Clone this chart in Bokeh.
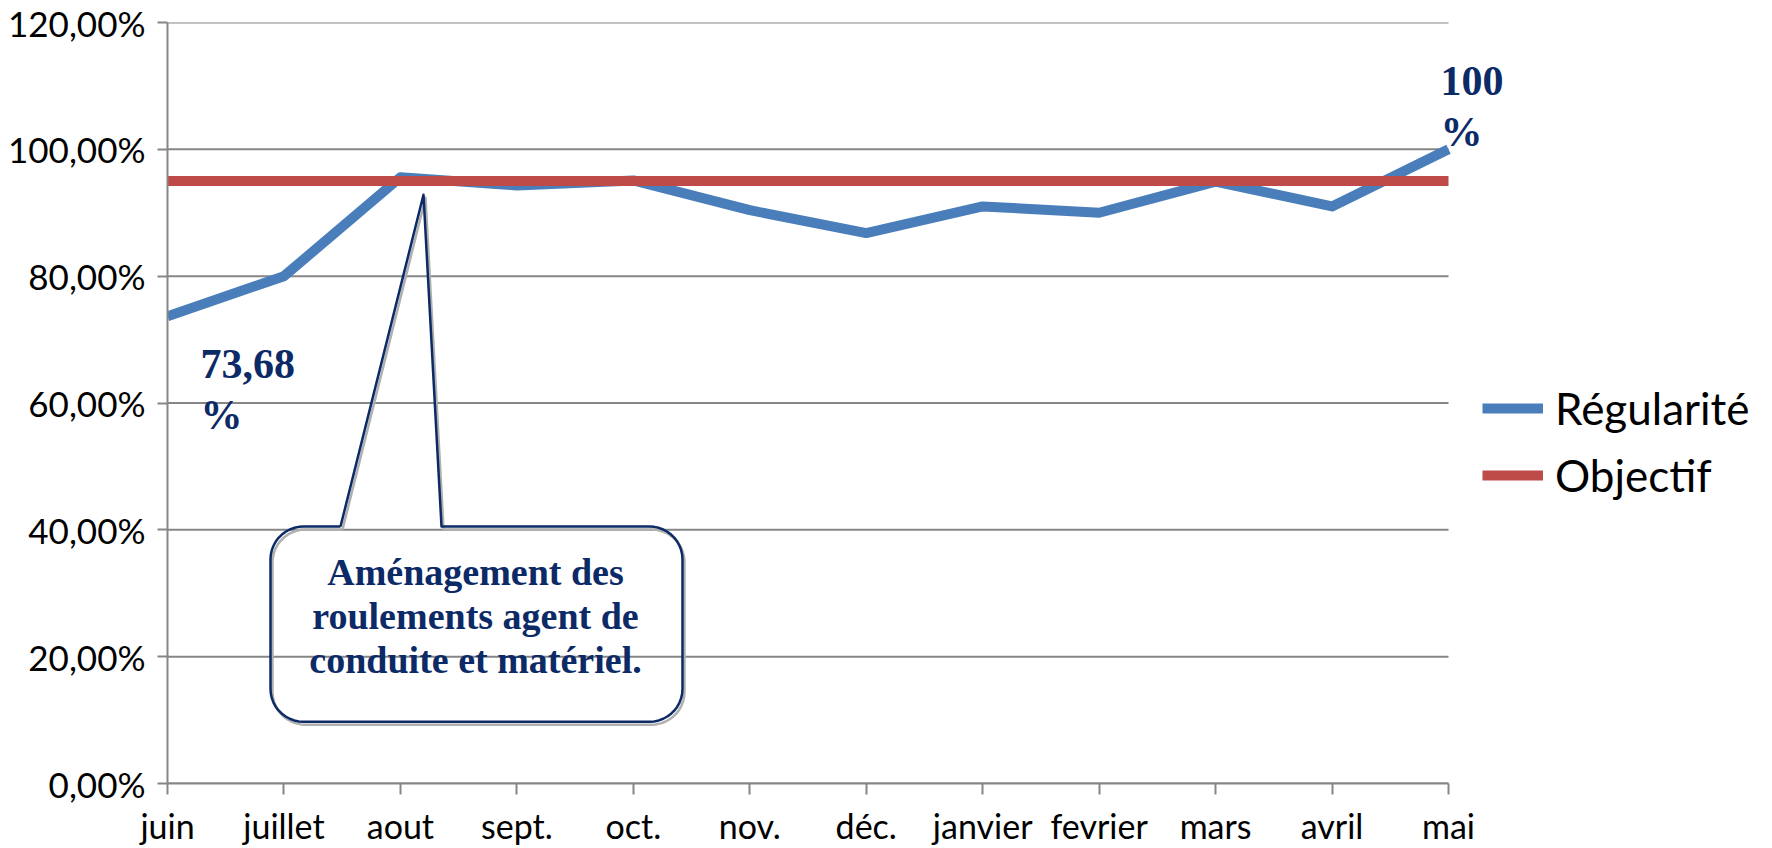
import numpy as np
from bokeh.plotting import figure
from bokeh.models import (Legend, LegendItem, FixedTicker, Range1d, ColumnDataSource,
                          LabelSet, Label)
from bokeh.core.properties import value
from bokeh.embed import file_html
from bokeh.resources import INLINE

# ---------------- data ----------------
months = ["juin", "juillet", "aout", "sept.", "oct.", "nov.", "déc.",
          "janvier", "fevrier", "mars", "avril", "mai"]
regularite = [0.7368, 0.800, 0.956, 0.943, 0.951, 0.904, 0.868,
              0.910, 0.900, 0.949, 0.910, 1.000]
objectif = [0.95, 0.95, 0.95, 0.95, 0.95, 0.95, 0.95,
            0.95, 0.95, 0.95, 0.95, 0.95]
y_ticks = [0.0, 0.2, 0.4, 0.6, 0.8, 1.0, 1.2]
y_tick_labels = ["0,00%", "20,00%", "40,00%", "60,00%", "80,00%", "100,00%", "120,00%"]
labelled_idx = [0, 11]
labelled_text = ["73,68\n%", "100\n%"]
callout_text = "Aménagement des\nroulements agent de\nconduite et matériel."

# ---------------- layout ----------------
W, H = 1772, 848
ML, MT, MB = 167, 22, 62
PLOT_W = 1281                 # width of the category area (juin .. mai)
FH = H - MT - MB
FW = W - ML                   # frame extends to the right edge (legend area)
N = len(months)
X0 = 0
X1 = (N - 1) * FW / PLOT_W
Y0, Y1 = 0.0, 1.2

BLUE = "#4A7EBB"
RED = "#BE4B48"
GRID = "#868686"
NAVY = "#0C2A66"

def px2x(px):
    return X0 + (px - ML) / FW * (X1 - X0)

def py2y(py):
    return Y0 + (MT + FH - py) / FH * (Y1 - Y0)

p = figure(width=W, height=H, x_range=Range1d(X0, X1), y_range=Range1d(Y0, Y1),
           output_backend="svg", toolbar_location=None,
           min_border_left=ML, min_border_right=0, min_border_top=MT,
           min_border_bottom=MB)
p.outline_line_color = None
p.background_fill_color = "white"
p.border_fill_color = "white"

# axes
xs = list(range(N))
p.xaxis.ticker = FixedTicker(ticks=xs)
p.xaxis.major_label_overrides = {i: m for i, m in enumerate(months)}
p.xaxis.bounds = (xs[0], xs[-1])
p.yaxis.ticker = FixedTicker(ticks=y_ticks)
p.yaxis.major_label_overrides = {t: l for t, l in zip(y_ticks, y_tick_labels)}
for ax in (p.xaxis, p.yaxis):
    ax.axis_line_color = GRID
    ax.axis_line_width = 2
    ax.major_tick_line_color = GRID
    ax.major_tick_line_width = 2
    ax.major_tick_in = 0
    ax.minor_tick_line_color = None
    ax.major_label_text_font = "Lato"
    ax.major_label_text_color = "#000000"
p.xaxis.major_label_text_font_size = "34px"
p.yaxis.major_label_text_font_size = "35px"
p.xaxis.major_tick_out = 11
p.xaxis.major_label_standoff = 10
p.yaxis.major_tick_out = 10
p.yaxis.major_label_standoff = 12

p.xgrid.grid_line_color = None
p.ygrid.grid_line_color = None
# horizontal gridlines limited to the category area
p.segment(x0=[xs[0]] * len(y_ticks), y0=y_ticks, x1=[xs[-1]] * len(y_ticks), y1=y_ticks,
          line_color=GRID, line_width=2)

# series
r_reg = p.line(xs, regularite, line_color=BLUE, line_width=10, line_join="round")
r_obj = p.line(xs, objectif, line_color=RED, line_width=10)

# data labels
lab_src = ColumnDataSource(dict(
    x=[xs[i] for i in labelled_idx],
    y=[regularite[i] for i in labelled_idx],
    text=labelled_text,
    xo=[33, -8],
    yo=[-25, 91],
))
p.add_layout(LabelSet(x="x", y="y", text="text", source=lab_src,
                      x_offset="xo", y_offset="yo",
                      text_font=value("Liberation Serif"), text_font_style="bold",
                      text_font_size="42px", text_color=NAVY,
                      text_align="left", text_baseline="top",
                      text_line_height=1.1))

# callout (outline only, no fill)
L, R, T, B, rad = 270, 682, 528, 724, 33
base_l, base_r = 340, 441
tip = (423, 195)

def arc(cx, cy, a0, a1, n=12):
    a = np.radians(np.linspace(a0, a1, n))
    return list(cx + rad * np.cos(a)), list(cy - rad * np.sin(a))

px, py = [base_l], [T]
for (cx, cy, a0, a1) in [(L + rad, T + rad, 90, 180), (L + rad, B - rad, 180, 270),
                         (R - rad, B - rad, 270, 360), (R - rad, T + rad, 0, 90)]:
    ax_, ay_ = arc(cx, cy, a0, a1)
    px += ax_
    py += ay_
px += [base_r, tip[0], base_l]
py += [T, tip[1], T]
px = np.array(px, dtype=float)
py = np.array(py, dtype=float)

p.line(px2x(px + 2), py2y(py + 3), line_color="#B0B0B0", line_width=2.5, line_join="round")
p.line(px2x(px), py2y(py), line_color=NAVY, line_width=2.5, line_join="round")

p.add_layout(Label(x=px2x(475), y=py2y(618), text=callout_text,
                   text_font="Liberation Serif", text_font_style="bold",
                   text_font_size="38px", text_color=NAVY,
                   text_align="center", text_baseline="middle",
                   text_line_height=1.05))

# legend
legend = Legend(items=[LegendItem(label="Régularité", renderers=[r_reg]),
                       LegendItem(label="Objectif", renderers=[r_obj])],
                location=(1482 - ML, 282), orientation="vertical",
                label_text_font="Lato", label_text_font_size="44px",
                label_text_color="#000000",
                glyph_width=61, glyph_height=40, label_height=40,
                spacing=15, padding=0, margin=0, label_standoff=12,
                border_line_color=None, background_fill_alpha=0)
p.add_layout(legend)

open("out.html", "w").write(file_html(p, INLINE))
